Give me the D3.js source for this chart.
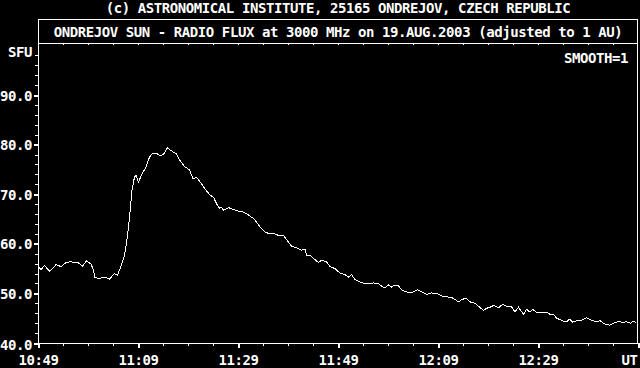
<!DOCTYPE html>
<html>
<head>
<meta charset="utf-8">
<script src="https://cdn.jsdelivr.net/npm/d3@7"></script>
<style>
  html, body { margin: 0; padding: 0; background: #000; }
  svg { display: block; }
  text { font-family: "DejaVu Sans Mono", monospace; font-weight: bold; font-size: 14px; letter-spacing: -0.42px; fill: #fff; }
</style>
</head>
<body>
<div id="chart"></div>
<script>
// minutes after 10:49 UT and flux in SFU
var minutes = [0, 0.6, 1.3, 2.3, 2.9, 3.6, 4.6, 5.6, 6.6, 7.3, 7.9, 8.9, 9.7, 10.6, 11.1, 11.4,
  12.3, 13.3, 14.3, 15.3, 15.9, 16.6, 17.3, 17.7, 18.1, 18.5, 18.8, 19.3, 19.6, 20.1, 20.8,
  21.6, 22.3, 22.9, 23.6, 24.6, 25.3, 25.9, 26.6, 27.6, 28.4, 29.3, 30.3, 31.0, 31.7, 32.4,
  33.4, 34.4, 35.1, 35.7, 36.3, 36.7, 37.1, 38.1, 39.1, 40.1, 41.1, 42.1, 43.1, 43.7, 44.4,
  45.4, 46.1, 47.1, 48.1, 49.1, 49.7, 50.7, 51.7, 52.7, 53.4, 53.7, 54.4, 55.4, 56.1, 56.7,
  57.7, 58.4, 59.4, 60.4, 61.4, 62.1, 62.7, 63.4, 64.4, 65.4, 66.4, 67.1, 68.1, 68.7, 69.4,
  70.1, 70.7, 71.4, 72.1, 72.7, 73.7, 74.4, 75.1, 75.9, 76.7, 77.7, 78.7, 79.7, 80.7, 81.7,
  82.7, 83.4, 84.1, 84.7, 85.6, 86.4, 87.4, 88.1, 89.1, 89.7, 90.4, 91.2, 92.1, 92.9, 93.7,
  94.7, 95.4, 96.1, 97.1, 97.7, 98.4, 98.9, 99.7, 100.7, 101.7, 102.4, 103.1, 103.7, 104.7,
  105.6, 106.3, 106.9, 107.7, 108.7, 109.7, 110.7, 111.6, 112.4, 113.4, 114.4, 115.2, 116.1,
  116.9, 117.7, 118.5, 119.1, 119.7];
var flux = [55.5, 54.8, 55.6, 54.5, 55.0, 55.8, 55.4, 56.2, 56.4, 56.2, 56.3, 55.5, 56.6, 55.9, 54.7, 53.2,
  53.0, 53.3, 52.9, 54.0, 53.7, 55.5, 57.7, 60.1, 63.4, 67.4, 70.8, 73.5, 73.8, 72.5, 74.1,
  75.5, 77.5, 78.3, 78.3, 77.7, 78.3, 79.4, 78.8, 78.2, 76.8, 75.6, 74.9, 73.1, 73.4, 72.5,
  71.1, 69.8, 69.4, 68.1, 67.2, 67.4, 66.8, 67.3, 66.9, 66.6, 66.4, 65.8, 65.1, 64.4, 63.4,
  62.4, 62.1, 62.1, 61.7, 61.7, 60.9, 59.5, 59.2, 58.7, 58.9, 57.7, 57.7, 56.8, 56.2, 56.7,
  56.4, 55.4, 55.0, 54.1, 53.8, 53.3, 53.8, 52.8, 52.3, 52.0, 52.0, 52.1, 52.0, 51.5, 51.1,
  51.7, 51.3, 51.7, 51.5, 50.7, 50.3, 50.1, 50.3, 50.7, 50.3, 49.8, 50.1, 50.0, 49.5, 49.3,
  49.2, 48.8, 48.3, 48.7, 49.1, 48.3, 48.0, 47.4, 46.6, 47.0, 47.2, 47.6, 47.1, 47.8, 47.4,
  47.3, 46.3, 47.2, 45.8, 46.8, 46.2, 46.8, 46.2, 46.1, 46.2, 45.8, 45.8, 45.0, 44.6,
  44.2, 44.8, 44.2, 44.5, 44.6, 45.1, 44.6, 44.3, 44.5, 43.8, 43.6, 44.0, 44.4,
  44.1, 44.3, 44.0, 44.4, 44.0];

var yTicks = [40, 50, 60, 70, 80, 90];
var xTicks = [0, 20, 40, 60, 80, 100, 120];
var xTickLabels = ["10:49", "11:09", "11:29", "11:49", "12:09", "12:29", "UT"];

var data = minutes.map(function (m, i) { return { m: m, v: flux[i] }; });

var width = 640, height = 368;

var svg = d3.select("#chart").append("svg")
    .attr("width", width)
    .attr("height", height)
    .style("background", "#000")
    .attr("shape-rendering", "crispEdges");

var x = d3.scaleLinear().domain([0, 120]).range([38, 638]);
var y = d3.scaleLinear().domain([40, 100.5]).range([343, 43]);

// frame + title separator
svg.append("rect")
    .attr("x", 38.5).attr("y", 19.5)
    .attr("width", 599).attr("height", 323.5)
    .attr("fill", "none").attr("stroke", "#fff");
svg.append("line")
    .attr("x1", 38).attr("x2", 638).attr("y1", 43.5).attr("y2", 43.5)
    .attr("stroke", "#fff");

svg.append("text")
    .attr("x", 338).attr("y", 13)
    .attr("text-anchor", "middle")
    .text("(c) ASTRONOMICAL INSTITUTE, 25165 ONDREJOV, CZECH REPUBLIC");
svg.append("text")
    .attr("x", 338).attr("y", 37)
    .attr("text-anchor", "middle")
    .text("ONDREJOV SUN - RADIO FLUX at 3000 MHz on 19.AUG.2003 (adjusted to 1 AU)");

// bottom axis, ticks every 5 minutes
var bottomMinor = svg.append("g")
    .attr("transform", "translate(0,343)")
    .call(d3.axisBottom(x).tickValues(d3.range(0, 121, 5)).tickSize(3).tickFormat(""));
bottomMinor.select(".domain").remove();
bottomMinor.selectAll(".tick line").attr("stroke", "#fff");

var bottomMajor = svg.append("g")
    .attr("transform", "translate(0,343)")
    .call(d3.axisBottom(x).tickValues(xTicks).tickSize(5)
      .tickFormat(function (d, i) { return xTickLabels[i]; }));
bottomMajor.attr("font-size", null).attr("font-family", null);
bottomMajor.select(".domain").remove();
bottomMajor.selectAll(".tick line").attr("stroke", "#fff").attr("stroke-width", 2);
bottomMajor.selectAll(".tick text")
    .attr("y", 22).attr("dy", 0)
    .attr("fill", "#fff");
bottomMajor.selectAll(".tick").filter(function (d) { return d === 120; })
    .select("text").attr("text-anchor", "end").attr("x", -1);

// top ticks
var topTicks = svg.append("g")
    .attr("transform", "translate(0,43)")
    .call(d3.axisBottom(x).tickValues(d3.range(5, 120, 5)).tickSize(2).tickFormat(""));
topTicks.select(".domain").remove();
topTicks.selectAll(".tick line").attr("stroke", "#fff");

// left axis, minor every 2 SFU
var leftMinor = svg.append("g")
    .attr("transform", "translate(38,0)")
    .call(d3.axisLeft(y).tickValues(d3.range(42, 100, 2)).tickSize(3).tickFormat(""));
leftMinor.select(".domain").remove();
leftMinor.selectAll(".tick line").attr("stroke", "#fff");

var leftMajor = svg.append("g")
    .attr("transform", "translate(38,0)")
    .call(d3.axisLeft(y).tickValues(yTicks).tickSize(4).tickFormat(d3.format(".1f")));
leftMajor.attr("font-size", null).attr("font-family", null);
leftMajor.select(".domain").remove();
leftMajor.selectAll(".tick line").attr("stroke", "#fff").attr("stroke-width", 2);
leftMajor.selectAll(".tick text").attr("x", -6).attr("dy", "0.36em").attr("fill", "#fff");
leftMajor.selectAll(".tick").filter(function (d) { return d === 40; })
    .select("text").attr("dy", "0.45em");

svg.append("text").attr("x", 32).attr("y", 57).attr("text-anchor", "end").text("SFU");
svg.append("text").attr("x", 628).attr("y", 63).attr("text-anchor", "end").text("SMOOTH=1");

// flux curve, hard pixels like the original plot
svg.append("path")
    .datum(data)
    .attr("fill", "none")
    .attr("stroke", "#fff")
    .attr("stroke-width", 1)
    .attr("d", d3.line().x(function (d) { return x(d.m); }).y(function (d) { return y(d.v); }));
</script>
</body>
</html>
